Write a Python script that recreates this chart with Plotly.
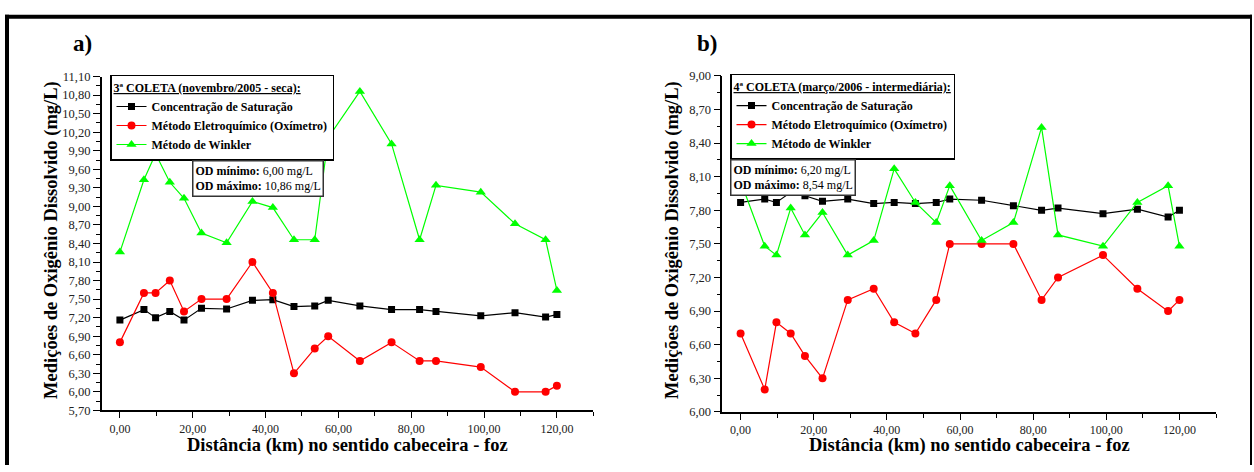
import plotly.graph_objects as go

# ---------------- data ----------------
dist = [0.0, 6.6, 9.8, 13.7, 17.6, 22.4, 29.3, 36.4, 42.0, 47.8,
        53.5, 57.2, 65.9, 74.6, 82.3, 86.8, 99.1, 108.5, 116.9, 120.0]

sat_a = [7.16, 7.33, 7.20, 7.30, 7.16, 7.35, 7.34, 7.48, 7.49, 7.38,
         7.39, 7.48, 7.39, 7.33, 7.33, 7.30, 7.23, 7.28, 7.21, 7.25]
oxi_a = [6.80, 7.60, 7.60, 7.80, 7.30, 7.50, 7.50, 8.10, 7.60, 6.30,
         6.70, 6.90, 6.50, 6.80, 6.50, 6.50, 6.40, 6.00, 6.00, 6.10]
wink_a = [8.26, 9.43, 9.85, 9.39, 9.13, 8.57, 8.41, 9.08, 8.98, 8.46,
          8.46, 10.11, 10.86, 10.01, 8.46, 9.34, 9.23, 8.72, 8.46, 7.64]

sat_b = [7.87, 7.90, 7.87, 7.96, 7.93, 7.88, 7.90, 7.86, 7.87, 7.86,
         7.87, 7.90, 7.89, 7.84, 7.80, 7.82, 7.77, 7.81, 7.74, 7.80]
oxi_b = [6.70, 6.20, 6.80, 6.70, 6.50, 6.30, 7.00, 7.10, 6.80, 6.70,
         7.00, 7.50, 7.50, 7.50, 7.00, 7.20, 7.40, 7.10, 6.90, 7.00]
wink_b = [8.06, 7.48, 7.40, 7.82, 7.58, 7.78, 7.40, 7.53, 8.17, 7.87,
          7.69, 8.02, 7.53, 7.69, 8.54, 7.58, 7.48, 7.87, 8.02, 7.48]

series_names = ["Concentração de Saturação",
                "Método Eletroquímico (Oxímetro)",
                "Método de Winkler"]
legend_titles = ["3ª COLETA (novembro/2005 - seca):",
                 "4ª COLETA (março/2006 - intermediária):"]
od_min = ["6,00", "6,20"]
od_max = ["10,86", "8,54"]
panel_labels = ["a)", "b)"]
x_title = "Distância (km) no sentido cabeceira - foz"
y_title = "Medições de Oxigênio Dissolvido (mg/L)"

# ---------------- styles ----------------
W, H = 1254, 472
SERIF = "Liberation Serif, Times New Roman, serif"
colors = ["#000000", "#ff0000", "#00ff00"]
symbols = ["square", "circle", "triangle-up"]
msizes = [7, 8, 9]


def px_x(p):
    return p / W


def px_y(p):
    return 1 - p / H


fig = go.Figure()

panels = [
    dict(xa="x", ya="y", leg="legend", data=[sat_a, oxi_a, wink_a]),
    dict(xa="x2", ya="y2", leg="legend2", data=[sat_b, oxi_b, wink_b]),
]
for p in panels:
    for name, vals, c, s, ms in zip(series_names, p["data"], colors, symbols, msizes):
        fig.add_trace(go.Scatter(
            x=dist, y=vals, name=name, mode="lines+markers",
            line=dict(color=c, width=1.2),
            marker=dict(color=c, symbol=s, size=ms),
            xaxis=p["xa"], yaxis=p["ya"], legend=p["leg"],
        ))

tickfont_x = dict(family=SERIF, size=12, color="#222")
tickfont_y = dict(family=SERIF, size=12.5, color="#222")

xcommon = dict(range=[-5, 130], tick0=0, dtick=20, tickformat=".2f",
               showgrid=False, zeroline=False, showline=True, linecolor="black",
               linewidth=1.6, ticks="outside", ticklen=6, tickwidth=1.3,
               tickcolor="black", tickfont=tickfont_x,
               minor=dict(dtick=10, ticks="outside", ticklen=4, tickwidth=1.2,
                          tickcolor="black", showgrid=False))
ycommon = dict(dtick=0.3, tickformat=".2f", showgrid=False, zeroline=False,
               showline=True, linecolor="black", linewidth=1.6,
               ticks="outside", ticklen=7, tickwidth=1.3, tickcolor="black",
               tickfont=tickfont_y,
               minor=dict(dtick=0.15, ticks="outside", ticklen=4, tickwidth=1.2,
                          tickcolor="black", showgrid=False))

legend_common = dict(
    xanchor="left", yanchor="top",
    bgcolor="white", bordercolor="black", borderwidth=1.5,
    font=dict(family=SERIF, size=12, color="black", weight="bold"),
    tracegroupgap=0, itemwidth=30,
)

fig.update_layout(
    width=W, height=H,
    margin=dict(l=0, r=0, t=0, b=0),
    paper_bgcolor="white", plot_bgcolor="white",
    separators=", ",
    font=dict(family=SERIF, color="black"),
    xaxis=dict(domain=[px_x(101.7), px_x(593.3)], anchor="y", **xcommon),
    yaxis=dict(domain=[px_y(415.7), px_y(71.7)], anchor="x",
               range=[5.70, 11.10], tick0=5.70, **ycommon),
    xaxis2=dict(domain=[px_x(722.3), px_x(1216)], anchor="y2", **xcommon),
    yaxis2=dict(domain=[px_y(417.3), px_y(71)], anchor="x2",
                range=[6.00, 9.00], tick0=6.00, **ycommon),
    legend=dict(
        x=px_x(110), y=px_y(70),
        title=dict(text="<u>" + legend_titles[0] + "</u>", side="top",
                   font=dict(family=SERIF, size=12, color="black", weight="bold")),
        **legend_common,
    ),
    legend2=dict(
        x=px_x(730), y=px_y(69),
        title=dict(text="<u>" + legend_titles[1] + "</u>", side="top",
                   font=dict(family=SERIF, size=12, color="black", weight="bold")),
        **legend_common,
    ),
)

annotations = []
# panel labels
for lbl, cx in zip(panel_labels, [82, 707]):
    annotations.append(dict(text="<b>" + lbl + "</b>", x=px_x(cx), y=px_y(38),
                            xref="paper", yref="paper", showarrow=False,
                            xanchor="center", yanchor="middle",
                            font=dict(family=SERIF, size=23, color="black")))
# axis titles
for cx in [52, 673]:
    annotations.append(dict(text="<b>" + y_title + "</b>", x=px_x(cx), y=px_y(240),
                            xref="paper", yref="paper", showarrow=False, textangle=-90,
                            xanchor="center", yanchor="middle",
                            font=dict(family=SERIF, size=18.5, color="black")))
for cx in [347.5, 969]:
    annotations.append(dict(text="<b>" + x_title + "</b>", x=px_x(cx), y=px_y(452),
                            xref="paper", yref="paper", showarrow=False,
                            xanchor="center", yanchor="middle",
                            font=dict(family=SERIF, size=18.5, color="black")))
# OD boxes
for (bx, by), mn, mx in zip([(192, 158), (730, 157)], od_min, od_max):
    annotations.append(dict(
        text="<b>OD mínimo:</b> " + mn + " mg/L<br><b>OD máximo:</b> " + mx + " mg/L",
        x=px_x(bx), y=px_y(by), xref="paper", yref="paper",
        xanchor="left", yanchor="top", align="left", showarrow=False,
        bgcolor="white", bordercolor="#333", borderwidth=1.5, borderpad=2,
        font=dict(family=SERIF, size=12, color="black")))
fig.update_layout(annotations=annotations)

# outer frame
shapes = [
    dict(type="line", xref="paper", yref="paper", x0=px_x(5), x1=px_x(1252),
         y0=px_y(10), y1=px_y(10), line=dict(color="black", width=4)),
    dict(type="line", xref="paper", yref="paper", x0=px_x(7), x1=px_x(7),
         y0=px_y(8), y1=0, line=dict(color="black", width=4)),
    dict(type="line", xref="paper", yref="paper", x0=px_x(1251), x1=px_x(1251),
         y0=px_y(8), y1=0, line=dict(color="black", width=2)),
]
fig.update_layout(shapes=shapes)

post = ("document.body.style.margin='0';document.body.style.overflow='hidden';"
        "var d=document.getElementById('{plot_id}');"
        "d.style.position='absolute';d.style.left='0px';d.style.top='0px';")
fig.write_html("out.html", post_script=post, config={"displayModeBar": False})
